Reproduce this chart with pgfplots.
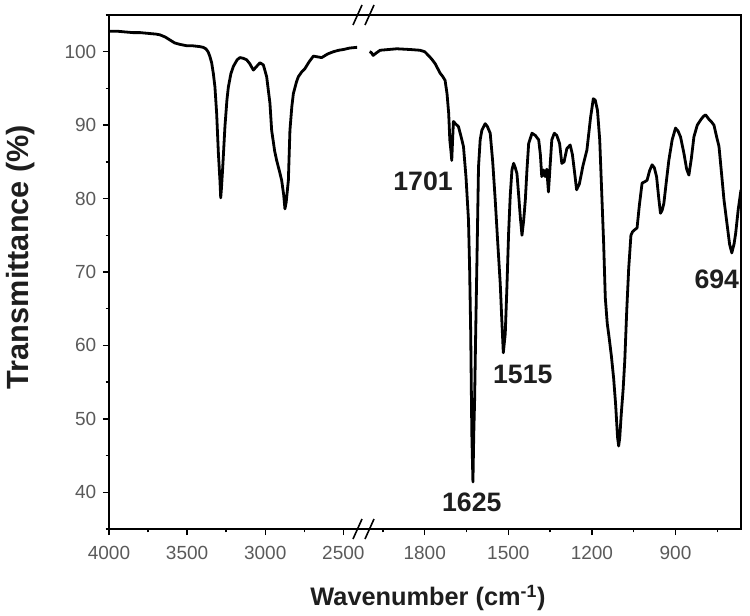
\documentclass[border=0pt]{standalone}
\usepackage{pgfplots}
\pgfplotsset{compat=1.18}
\usepackage{fontspec}
\setmainfont{Liberation Sans}
\definecolor{tickgray}{HTML}{5A5A5A}
\definecolor{labelblack}{HTML}{1E1E1E}

\pgfplotstableread{
W T
4000 102.8
3950 102.8
3900 102.7
3846 102.6
3800 102.6
3750 102.5
3700 102.4
3674 102.3
3640 102.0
3610 101.6
3580 101.2
3546 101.0
3500 100.8
3462 100.8
3420 100.7
3398 100.6
3380 100.4
3366 100.0
3355 99.4
3343 98.5
3332 97.0
3322 95.2
3311 91.6
3300 86.2
3290 82.5
3285 80.1
3280 81.5
3272 84.3
3258 89.8
3245 93.5
3236 95.2
3220 97.0
3204 98.0
3180 98.9
3162 99.2
3140 99.1
3119 98.9
3100 98.4
3076 97.5
3055 98.0
3034 98.5
3012 98.2
2991 96.6
2970 93.0
2959 89.3
2940 86.5
2927 85.2
2910 83.8
2895 82.5
2882 80.5
2874 78.6
2866 79.5
2852 82.5
2842 89.3
2830 92.5
2820 94.3
2800 95.9
2788 96.6
2765 97.3
2746 97.7
2720 98.6
2692 99.4
2665 99.3
2639 99.2
2600 99.7
2564 100.0
2530 100.2
2500 100.3
2460 100.5
2412 100.6
}\leftdata

\pgfplotstableread{
W T
1998 100.0
1992 99.9
1985 99.5
1975 99.8
1960 100.2
1930 100.3
1900 100.4
1852 100.3
1817 100.2
1800 100.0
1787 99.5
1775 99.0
1763 98.4
1745 97.1
1735 96.6
1727 96.1
1720 94.3
1714 91.6
1710 88.0
1706 86.5
1703 85.2
1700 88.0
1697 90.5
1690 90.2
1679 89.8
1670 88.5
1661 87.1
1652 83.0
1643 77.1
1639 70.7
1635 61.7
1631 48.0
1627 41.4
1624 48.0
1621 52.5
1617 62.0
1613 70.7
1607 84.3
1601 88.0
1595 89.3
1583 90.2
1575 89.8
1565 88.9
1556 85.0
1547 79.8
1538 74.0
1529 68.4
1524 64.0
1518 59.0
1511 61.6
1505 68.0
1499 75.3
1493 80.5
1487 83.9
1481 84.8
1475 84.2
1469 83.4
1463 80.5
1457 77.5
1451 75.0
1445 77.0
1439 79.8
1433 84.0
1427 87.5
1415 88.9
1403 88.6
1391 88.0
1385 86.0
1380 83.0
1374 83.9
1368 83.0
1362 84.0
1356 80.9
1350 84.5
1344 88.0
1335 88.9
1326 88.6
1316 87.5
1308 84.8
1300 85.0
1290 86.8
1278 87.3
1270 86.0
1262 83.5
1255 81.2
1245 82.0
1232 84.5
1218 86.6
1205 91.0
1195 93.6
1188 93.4
1180 92.0
1172 88.0
1165 81.0
1158 74.0
1152 66.5
1145 63.0
1138 61.0
1130 58.5
1122 55.5
1115 52.0
1108 47.5
1104 46.3
1100 47.5
1095 50.5
1088 54.0
1082 58.0
1075 64.8
1068 70.5
1060 75.0
1054 75.5
1045 75.8
1038 76.0
1030 79.0
1020 82.1
1010 82.3
1002 82.5
993 83.8
984 84.6
976 84.2
968 83.0
960 80.0
954 78.0
948 78.4
942 79.3
933 82.3
924 85.2
912 88.0
900 89.6
891 89.2
882 88.4
870 86.2
860 84.0
852 83.2
843 85.5
834 88.4
822 90.0
810 90.7
800 91.2
792 91.4
780 90.8
770 90.4
762 90.0
753 88.5
744 87.1
735 83.5
726 79.8
715 76.5
706 73.8
698 72.6
690 73.8
684 75.3
675 78.5
665 81.2
}\rightdata

\begin{document}
\begin{tikzpicture}
\pgfplotsset{
  every axis/.append style={
    scale only axis,
    height=385.5pt,
    ymin=35, ymax=105,
    axis line style={draw=none},
    tick align=outside,
    major tick length=4.5pt,
    minor tick length=2.5pt,
    tick style={black, line width=1.1pt},
    tick label style={font=\fontsize{14.25}{16}\selectfont, text=tickgray},
    xticklabel style={yshift=-5pt},
    yticklabel style={xshift=-1.5pt},
    /pgf/number format/assume math mode=true,
    /pgf/number format/1000 sep={},
    xtick pos=left, ytick pos=left,
    x dir=reverse,
  },
}
\begin{scope}[x=0.75pt, y=-0.75pt]
\useasboundingbox (0,0) rectangle (750,615);
\end{scope}

\begin{axis}[at={(81.75pt,-396.75pt)}, anchor=south west, width=187.5pt,
  xmin=2400, xmax=4000,
  xtick={2500,3000,3500,4000}, minor xtick={2750,3250,3750},
  ytick={40,50,...,100}, minor ytick={35,45,...,105}]
\addplot[black, line width=2.1pt, line join=round] table[x=W, y=T] {\leftdata};
\end{axis}

\begin{axis}[at={(276.75pt,-396.75pt)}, anchor=south west, width=279pt,
  xmin=665, xmax=2000,
  xtick={900,1200,1500,1800}, minor xtick={750,1050,1350,1650,1950},
  ytick=\empty]
\addplot[black, line width=2.1pt, line join=round] table[x=W, y=T] {\rightdata};
\node[font=\bfseries\fontsize{20}{22}\selectfont, text=labelblack] at (axis cs:1806,82.4) {1701};
\node[font=\bfseries\fontsize{20}{22}\selectfont, text=labelblack] at (axis cs:1448,56.0) {1515};
\node[font=\bfseries\fontsize{20}{22}\selectfont, text=labelblack] at (axis cs:1631,38.6) {1625};
\node[font=\bfseries\fontsize{20}{22}\selectfont, text=labelblack] at (axis cs:752,69.0) {694};
\end{axis}

\begin{scope}[x=0.75pt, y=-0.75pt]
\draw[line width=1.5pt, black] (109,15) rectangle (741,529);
\draw[line width=1.2pt, black] (353,25)--(362,5) (365,25)--(374,5);
\draw[line width=1.2pt, black] (353,539)--(362,519) (365,539)--(374,519);
\node[rotate=90, font=\bfseries\fontsize{23}{26}\selectfont, text=labelblack] at (21,257) {Transmittance (\%)};
\node[font=\bfseries\fontsize{19}{22}\selectfont, text=labelblack] at (428,598) {Wavenumber (cm\textsuperscript{-1})};
\end{scope}
\end{tikzpicture}
\end{document}
